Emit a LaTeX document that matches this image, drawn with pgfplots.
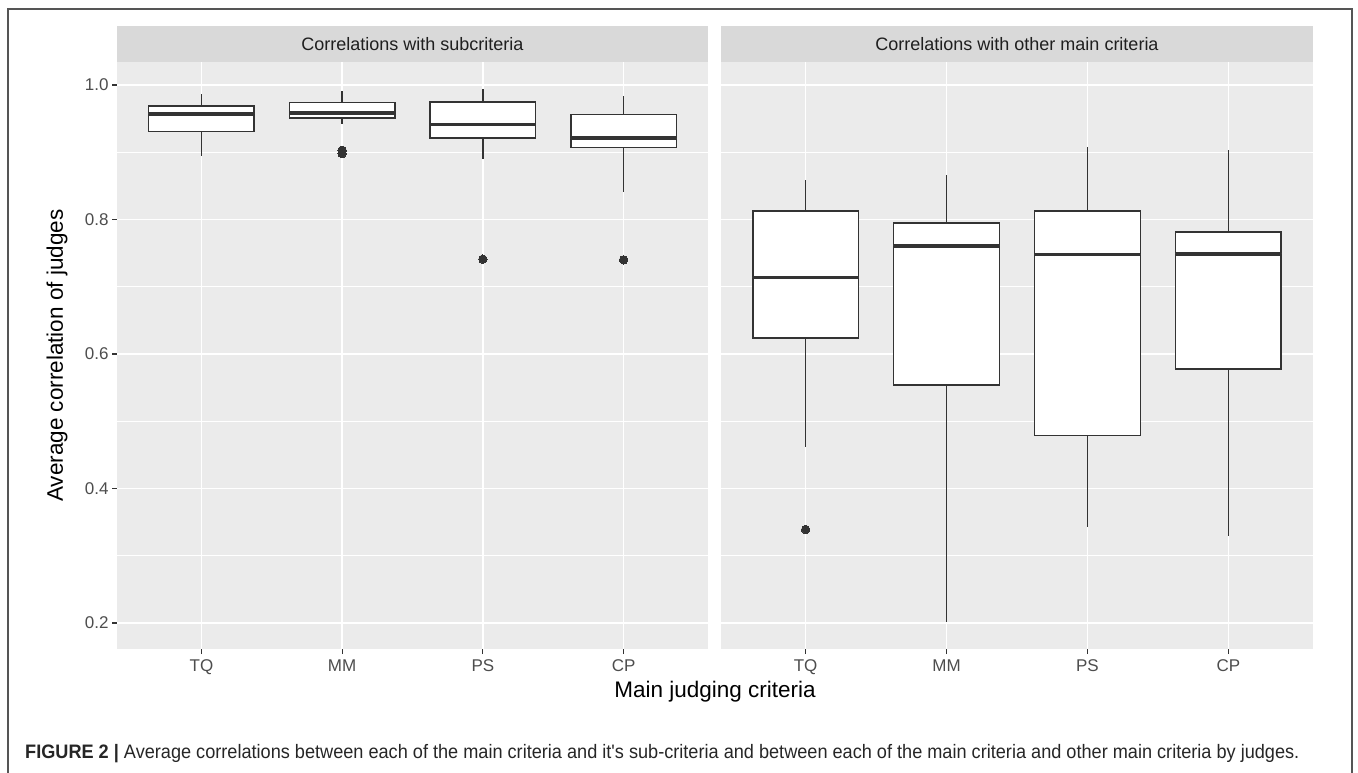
\documentclass[border=0pt]{standalone}
\usepackage{fontspec}
\setmainfont{Liberation Sans}
\newfontfamily\capfont[FakeStretch=0.93]{Liberation Sans}
\usepackage{pgfplots}
\pgfplotsset{compat=1.18}
\usepgfplotslibrary{statistics}
\definecolor{panelbg}{HTML}{EBEBEB}
\definecolor{stripbg}{HTML}{D9D9D9}
\definecolor{boxcol}{HTML}{333333}
\definecolor{tickcol}{HTML}{333333}
\definecolor{ticklab}{HTML}{4D4D4D}
\definecolor{framecol}{HTML}{555555}
\pgfplotsset{
  ggpanel/.style={
    scale only axis, width=591pt, height=587pt,
    xmin=0.4, xmax=4.6, ymin=0.1613, ymax=1.0342,
    axis background/.style={fill=panelbg},
    axis line style={draw=none},
    xtick={1,2,3,4}, xticklabels={TQ,MM,PS,CP},
    ytick={0.2,0.4,0.6,0.8,1.0},
    minor ytick={0.3,0.5,0.7,0.9},
    grid=both,
    major grid style={white, line width=1.7pt},
    minor grid style={white, line width=0.85pt},
    tick style={draw=tickcol, line width=1.1pt},
    major tick length=5pt, minor tick length=0pt,
    tick align=outside,
    xtick pos=lower, ytick pos=left,
    ticklabel style={font=\fontsize{17}{17}\selectfont, text=ticklab},
    xticklabel style={yshift=-2pt},
    yticklabel style={/pgf/number format/.cd, fixed, fixed zerofill, precision=1, assume math mode=true},
    clip=false,
    boxplot/draw direction=y,
    boxplot/every median/.style={line width=3.6pt},
    boxplot/every whisker/.style={line width=1.6pt},
    boxplot/every box/.style={line width=1.6pt},
  },
  ggbox/.style={draw=boxcol, fill=white, line width=1.6pt, mark=*, mark size=4.2pt,
    mark options={fill=boxcol, draw=boxcol, line width=0pt}},
}
\begin{document}
\begin{tikzpicture}
\useasboundingbox (0pt,0pt) rectangle (1358pt,-773pt);
\draw[framecol, line width=1.2pt] (8pt,-9pt) rectangle (1352pt,-775pt);

% Left panel
\begin{axis}[ggpanel, name=L, at={(117pt,-649pt)}, anchor=south west]
\addplot[ggbox, boxplot prepared={draw position=1, median=0.957, upper quartile=0.969, lower quartile=0.931, upper whisker=0.986, lower whisker=0.895, box extend=0.75, whisker extend=0}] coordinates {};
\addplot[ggbox, boxplot prepared={draw position=2, median=0.958, upper quartile=0.974, lower quartile=0.951, upper whisker=0.991, lower whisker=0.942, box extend=0.75, whisker extend=0}] table[row sep=\\, y index=0] {v\\ 0.898\\ 0.903\\};
\addplot[ggbox, boxplot prepared={draw position=3, median=0.941, upper quartile=0.975, lower quartile=0.921, upper whisker=0.994, lower whisker=0.890, box extend=0.75, whisker extend=0}] table[row sep=\\, y index=0] {v\\ 0.741\\};
\addplot[ggbox, boxplot prepared={draw position=4, median=0.921, upper quartile=0.956, lower quartile=0.907, upper whisker=0.983, lower whisker=0.841, box extend=0.75, whisker extend=0}] table[row sep=\\, y index=0] {v\\ 0.740\\};
\end{axis}

% Right panel
\begin{axis}[ggpanel, name=R, at={(721pt,-649pt)}, anchor=south west, width=592pt, yticklabels={}, ytick style={draw=none}]
\addplot[ggbox, boxplot prepared={draw position=1, median=0.714, upper quartile=0.813, lower quartile=0.624, upper whisker=0.858, lower whisker=0.461, box extend=0.75, whisker extend=0}] table[row sep=\\, y index=0] {v\\ 0.339\\};
\addplot[ggbox, boxplot prepared={draw position=2, median=0.761, upper quartile=0.795, lower quartile=0.554, upper whisker=0.866, lower whisker=0.201, box extend=0.75, whisker extend=0}] coordinates {};
\addplot[ggbox, boxplot prepared={draw position=3, median=0.748, upper quartile=0.813, lower quartile=0.479, upper whisker=0.908, lower whisker=0.343, box extend=0.75, whisker extend=0}] coordinates {};
\addplot[ggbox, boxplot prepared={draw position=4, median=0.749, upper quartile=0.781, lower quartile=0.578, upper whisker=0.904, lower whisker=0.329, box extend=0.75, whisker extend=0}] coordinates {};
\end{axis}

% Strips
\node[fill=stripbg, minimum width=591pt, minimum height=36pt, inner sep=0pt, anchor=south, text=black!88, font=\fontsize{18}{18}\selectfont] at (L.north) {Correlations with subcriteria};
\node[fill=stripbg, minimum width=592pt, minimum height=36pt, inner sep=0pt, anchor=south, text=black!88, font=\fontsize{18}{18}\selectfont] at (R.north) {Correlations with other main criteria};

% Axis titles
\node[rotate=90, font=\fontsize{22.5}{22.5}\selectfont] at (57pt,-355.5pt) {Average correlation of judges};
\node[font=\fontsize{22.5}{22.5}\selectfont] at (715pt,-692pt) {Main judging criteria};

% Caption
\node[anchor=base west, inner sep=0pt, font=\capfont\fontsize{19.5}{19.5}\selectfont, text=black!85] at (25pt,-758pt) {\textbf{FIGURE 2 |} Average correlations between each of the main criteria and it's sub-criteria and between each of the main criteria and other main criteria by judges.};
\end{tikzpicture}
\end{document}
